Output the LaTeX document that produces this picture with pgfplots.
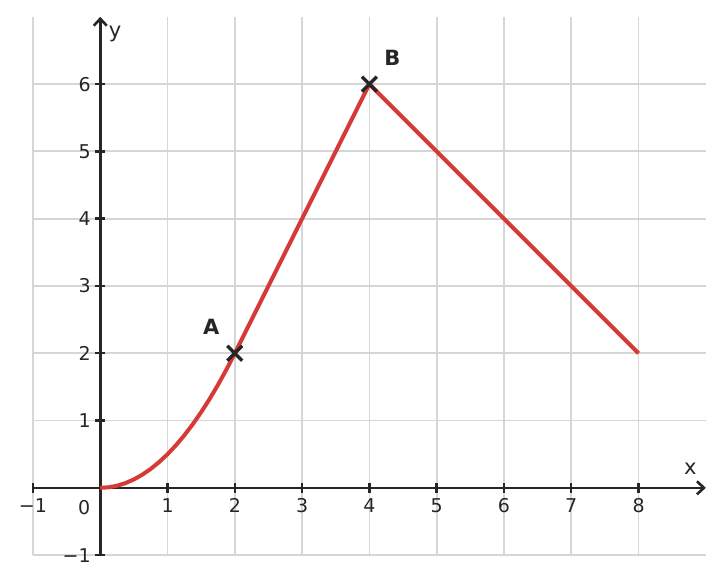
\documentclass[border=0pt]{standalone}
\usepackage{fontspec}
\setmainfont{DejaVu Sans}
\usepackage{pgfplots}
\pgfplotsset{compat=1.18}
\usetikzlibrary{arrows.meta}

\definecolor{curvered}{RGB}{214,58,54}
\definecolor{axisdark}{RGB}{38,38,38}
\definecolor{gridgray}{RGB}{214,214,214}

\begin{document}
\begin{tikzpicture}
\begin{axis}[
  x=67.3pt, y=67.3pt,
  xmin=-1, xmax=9, ymin=-1, ymax=7,
  axis lines=middle,
  axis line style={axisdark, line width=2.6pt, -{Straight Barb[length=7pt,width=13pt,line width=2.6pt]}},
  xtick={-1,1,2,3,4,5,6,7,8},
  xticklabels={−1,1,2,3,4,5,6,7,8},
  ytick={-1,1,2,3,4,5,6},
  yticklabels={−1,1,2,3,4,5,6},
  tick align=center,
  major tick length=10pt,
  tick style={axisdark, line width=2.4pt},
  grid=major,
  major grid style={gridgray, line width=1.8pt},
  ticklabel style={font=\fontsize{19}{21}\selectfont, text=axisdark},
  xticklabel style={yshift=-2pt},
  yticklabel style={xshift=-1pt},
  xlabel={x}, ylabel={y},
  every axis x label/.style={at={(axis cs:8.77,0.29)}, anchor=center, font=\fontsize{21}{23}\selectfont, text=axisdark},
  every axis y label/.style={at={(axis cs:0.22,6.74)}, anchor=center, font=\fontsize{21}{23}\selectfont, text=axisdark},
  clip=false,
]
\addplot[curvered, line width=4pt, line join=round, no marks] coordinates {
(0,0) (0.125,0.0078) (0.25,0.03125) (0.375,0.0703) (0.5,0.125)
(0.625,0.1953) (0.75,0.28125) (0.875,0.3828) (1,0.5)
(1.125,0.6328) (1.25,0.78125) (1.375,0.9453) (1.5,1.125)
(1.625,1.3203) (1.75,1.53125) (1.875,1.7578) (2,2)
(4,6) (8,2)
};
\addplot[only marks, mark=x, mark size=10.5pt, mark options={axisdark, line width=3.4pt}] coordinates {
(2,2) (4,6)
};
\node[font=\bfseries\fontsize{21}{23}\selectfont, text=axisdark] at (axis cs:1.65,2.39) {A};
\node[font=\bfseries\fontsize{21}{23}\selectfont, text=axisdark] at (axis cs:4.34,6.39) {B};
\node[font=\fontsize{19}{21}\selectfont, text=axisdark] at (axis cs:-0.24,-0.29) {0};
\path (axis cs:-1.49,-1.43) rectangle (axis cs:9.27,7.25);
\end{axis}
\end{tikzpicture}
\end{document}
